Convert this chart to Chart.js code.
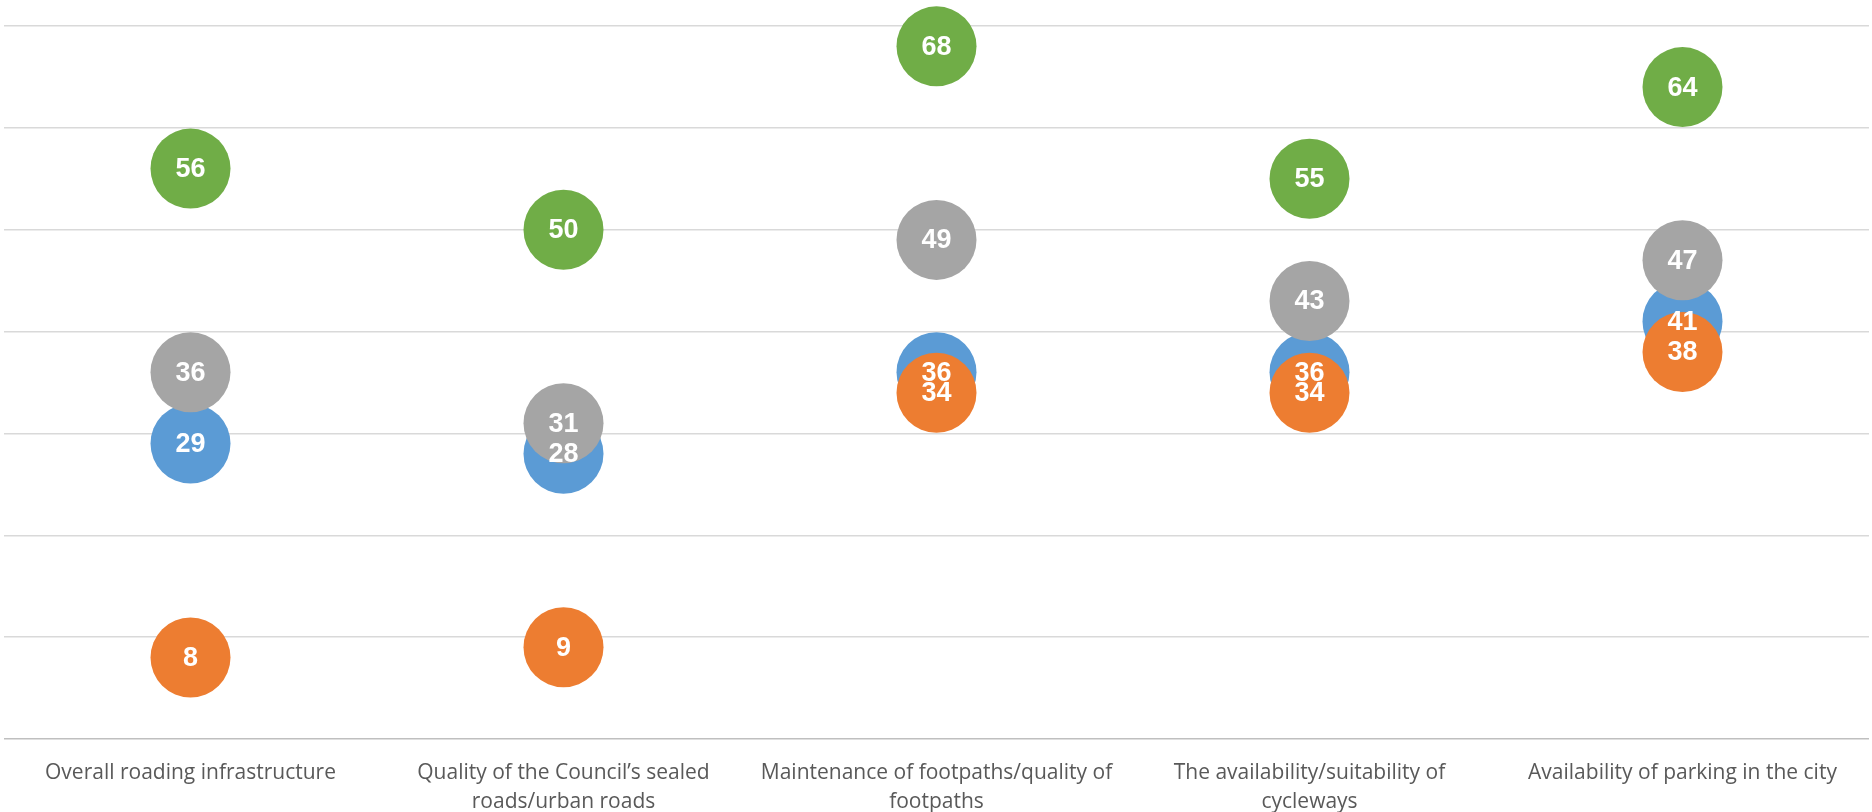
<!DOCTYPE html>
<html>
<head>
<meta charset="utf-8">
<script src="https://cdn.jsdelivr.net/npm/chart.js@4.4.1/dist/chart.umd.min.js"></script>
<style>
  html, body { margin: 0; padding: 0; background: #fff; }
  #wrap { width: 1872px; height: 812px; }
</style>
</head>
<body>
<div id="wrap"><canvas id="dots"></canvas></div>
<script>
const categories = [
    "Overall roading infrastructure",
    ["Quality of the Council’s sealed", "roads/urban roads"],
    ["Maintenance of footpaths/quality of", "footpaths"],
    ["The availability/suitability of", "cycleways"],
    "Availability of parking in the city"
];
const blueValues = [29, 28, 36, 36, 41];
const orangeValues = [8, 9, 34, 34, 38];
const greyValues = [36, 31, 49, 43, 47];
const greenValues = [56, 50, 68, 55, 64];
const yTicks = [0, 10, 20, 30, 40, 50, 60, 70];

// value labels go on after every circle is drawn
const valueLabels = {
    id: "valueLabels",
    afterDatasetsDraw(chart) {
        const ctx = chart.ctx;
        ctx.save();
        ctx.font = "bold 27px 'Liberation Sans', Arial, sans-serif";
        ctx.fillStyle = "#fff";
        ctx.textAlign = "center";
        ctx.textBaseline = "middle";
        chart.data.datasets.forEach((ds, i) => {
            chart.getDatasetMeta(i).data.forEach((pt, j) => {
                ctx.fillText(ds.data[j], pt.x, pt.y + 1);
            });
        });
        ctx.restore();
    }
};

function series(data, color) {
    return {
        data: data,
        showLine: false,
        pointRadius: 40,
        pointBackgroundColor: color,
        pointBorderWidth: 0,
        borderColor: color,
        clip: false
    };
}

new Chart(document.getElementById("dots"), {
    type: "line",
    data: {
        labels: categories,
        // listed top-most first
        datasets: [
            series(greenValues, "#70AD47"),
            series(greyValues, "#A5A5A5"),
            series(orangeValues, "#ED7D31"),
            series(blueValues, "#5B9BD5")
        ]
    },
    options: {
        responsive: true,
        maintainAspectRatio: false,
        animation: false,
        events: [],
        layout: { autoPadding: false, padding: { top: 26, right: 3, left: 0, bottom: 0 } },
        scales: {
            x: {
                offset: true,
                grid: { display: false },
                border: { display: false },
                ticks: {
                    padding: 12,
                    maxRotation: 0,
                    autoSkip: false,
                    font: { family: "'Open Sans', sans-serif", size: 21, lineHeight: 1.37 },
                    color: "#595959"
                },
                afterFit: (scale) => { scale.height = 73; }
            },
            y: {
                min: 0,
                max: 70,
                afterBuildTicks: (scale) => { scale.ticks = yTicks.map(v => ({ value: v })); },
                grid: {
                    drawTicks: false,
                    lineWidth: 1.5,
                    color: (c) => c.tick && c.tick.value === 0 ? "#BFBFBF" : "#D9D9D9"
                },
                border: { display: false },
                ticks: { display: false },
                afterFit: (scale) => { scale.width = 4; }
            }
        },
        plugins: {
            legend: { display: false },
            tooltip: { enabled: false }
        }
    },
    plugins: [valueLabels]
});
</script>
</body>
</html>
